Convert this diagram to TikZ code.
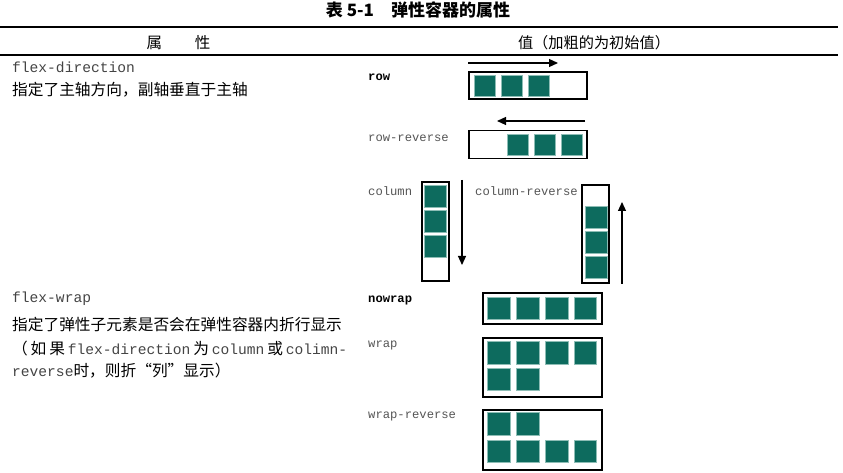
\documentclass[tikz,border=0pt]{standalone}
\usepackage{fontspec}
\setmainfont{Noto Sans CJK SC}
\setmonofont{Liberation Mono}
\usepackage{tikz}
\usetikzlibrary{arrows.meta}
\definecolor{itemfill}{HTML}{0D6B5E}
\definecolor{itemrim}{HTML}{8DBDB5}
\definecolor{labelgray}{HTML}{555555}
\definecolor{codegray}{HTML}{444444}
\newcommand{\propcode}[1]{{\fontsize{14.6bp}{16bp}\ttfamily\color{codegray}#1}}

\tikzset{
  box/.style={draw, line width=1.6bp, inner sep=0pt},
  item/.style={draw=itemrim, fill=itemfill, line width=0.6bp, inner sep=0pt, minimum size=#1},
  item/.default=21bp,
  flow/.style={-{Triangle[length=9bp,width=8bp]}, line width=1.2bp},
  desc/.style={anchor=west, inner sep=0pt, font=\fontsize{15.7bp}{18bp}\selectfont},
  val/.style={anchor=west, inner sep=0pt, text=labelgray, font=\fontsize{12.2bp}{14bp}\ttfamily},
  initval/.style={anchor=west, inner sep=0pt, font=\fontsize{12.2bp}{14bp}\ttfamily\bfseries},
}

\begin{document}
\begin{tikzpicture}[x=1bp,y=-1bp]
		\useasboundingbox (0,0) rectangle (843,473);

		%% Caption and header
		\node[font=\fontsize{17bp}{20bp}\selectfont\bfseries] (title) at (418,10) {表 5-1\quad 弹性容器的属性};
		\draw[line width=2.2bp] (0,27) -- (838,27);
		\node[font=\fontsize{15.5bp}{18bp}\selectfont] (hprop) at (178.5,42.5) {属\hspace{2.1em}性};
		\node[font=\fontsize{15.2bp}{18bp}\selectfont] (hval) at (594,42.5) {值（加粗的为初始值）};
		\draw[line width=1.2bp] (0,55) -- (838,55);

		%% flex-direction
		\node[desc] (dirname) at (12,67) {\propcode{flex-direction}};
		\node[desc] (dirnote) at (12,90) {指定了主轴方向，副轴垂直于主轴};

		% row
		\node[initval] (rowlbl) at (368,77) {row};
		\node[box, minimum width=118.5bp, minimum height=27.5bp] (rowbox) at (528,85.5) {};
		\foreach \i in {0,1,2}
			\node[item] (row-\i) at ({484.5+27*\i},85.5) {};
		\coordinate (rowA) at (468,63);
		\coordinate (rowB) at (558,63);
		\draw[flow] (rowA) -- (rowB);

		% row-reverse
		\node[val] (rrlbl) at (368,138) {row-reverse};
		\node[box, minimum width=118.5bp, minimum height=28bp] (rrbox) at (528,144.5) {};
		\foreach \i in {0,1,2}
			\node[item] (rr-\i) at ({517.5+27*\i},145) {};
		\coordinate (rrA) at (585,121);
		\coordinate (rrB) at (497,121);
		\draw[flow] (rrA) -- (rrB);

		% column
		\node[val] (collbl) at (368,191) {column};
		\node[box, minimum width=27.5bp, minimum height=99.5bp] (colbox) at (435.5,231.5) {};
		\foreach \i in {0,1,2}
			\node[item=22bp] (col-\i) at (435,{196.5+25*\i}) {};
		\coordinate (colA) at (462,180);
		\coordinate (colB) at (462,265);
		\draw[flow] (colA) -- (colB);

		% column-reverse
		\node[val] (crlbl) at (475,191) {column-reverse};
		\node[box, minimum width=27.5bp, minimum height=98.5bp] (crbox) at (595.5,234) {};
		\foreach \i in {0,1,2}
			\node[item=22bp] (cr-\i) at (596,{217.5+25*\i}) {};
		\coordinate (crA) at (622,284);
		\coordinate (crB) at (622,202);
		\draw[flow] (crA) -- (crB);

		%% flex-wrap
		\node[desc] (wrapname) at (12,299) {\propcode{flex-wrap}};
		\node[desc] (wrapnote) at (12,325) {指定了弹性子元素是否会在弹性容器内折行显示};
		\node[desc] (wrapnoteb) at (12,349) {\hbox to 335bp{（\hfil 如\hfil 果\hfil\propcode{flex-direction}\hfil 为\hfil\propcode{column}\hfil 或\hfil\propcode{colimn-}}};
		\node[desc] (wrapnotec) at (12,371) {\propcode{reverse}时，则折“列”显示）};

		% nowrap
		\node[initval] (nwlbl) at (368,300) {nowrap};
		\node[box, minimum width=119.5bp, minimum height=31.5bp] (nwbox) at (542.5,308.5) {};
		\foreach \i in {0,...,3}
			\node[item=22.5bp] (nw-\i) at ({499+28.8*\i},308.5) {};

		% wrap
		\node[val] (wlbl) at (368,345) {wrap};
		\node[box, minimum width=119.5bp, minimum height=59.5bp] (wbox) at (542.5,367.5) {};
		\foreach \i in {0,...,3}
			\node[item=22.5bp] (wa-\i) at ({499+28.8*\i},353) {};
		\foreach \i in {0,1}
			\node[item=22.5bp] (wb-\i) at ({499+28.8*\i},379.5) {};

		% wrap-reverse
		\node[val] (wrlbl) at (368,416) {wrap-reverse};
		\node[box, minimum width=119.5bp, minimum height=60.5bp] (wrbox) at (542.5,440) {};
		\foreach \i in {0,1}
			\node[item=22.5bp] (wra-\i) at ({499+28.8*\i},424) {};
		\foreach \i in {0,...,3}
			\node[item=22.5bp] (wrb-\i) at ({499+28.8*\i},451.5) {};
	\end{tikzpicture}
\end{document}
